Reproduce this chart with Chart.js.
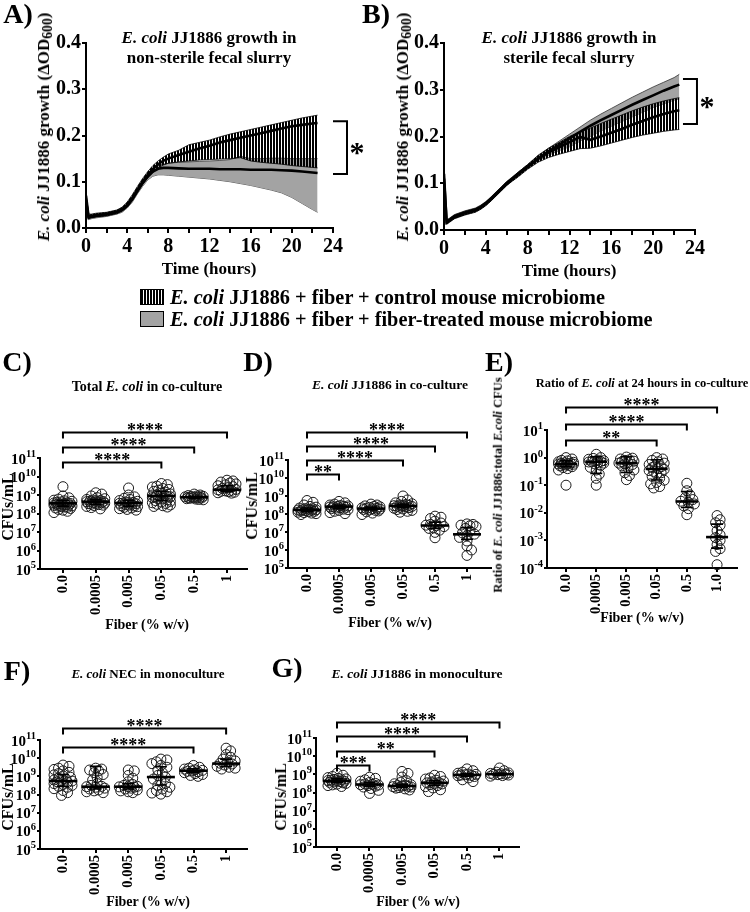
<!DOCTYPE html>
<html>
<head>
<meta charset="utf-8">
<script src="https://cdn.jsdelivr.net/npm/chart.js@4.4.1/dist/chart.umd.min.js"></script>
<style>
body{margin:0;background:#fff;}
#fig{position:relative;width:750px;height:912px;overflow:hidden;font-family:'Liberation Serif','Times New Roman',serif;font-weight:bold;color:#000;}
#fig canvas{position:absolute;left:0;top:0;}
.t{position:absolute;white-space:nowrap;transform:translate(-50%,-50%);line-height:1;}
.r{transform:translate(-50%,-50%) rotate(-90deg);}
.l{position:absolute;white-space:nowrap;transform:translateY(-50%);line-height:1;font-size:20.3px;}
.box{position:absolute;width:22px;height:14px;border:1px solid #000;}
sub{font-size:0.8em;vertical-align:-0.25em;}
</style>
</head>
<body>
<div id="fig">
<canvas id="cA" width="750" height="912"></canvas>
<canvas id="cB" width="750" height="912"></canvas>
<canvas id="cC" width="750" height="912"></canvas>
<canvas id="cD" width="750" height="912"></canvas>
<canvas id="cE" width="750" height="912"></canvas>
<canvas id="cF" width="750" height="912"></canvas>
<canvas id="cG" width="750" height="912"></canvas>

<div class="t" style="left:18px;top:14px;font-size:28px">A)</div>
<div class="t" style="left:376px;top:14px;font-size:28px">B)</div>
<div class="t" style="left:17px;top:362px;font-size:28px">C)</div>
<div class="t" style="left:258px;top:362px;font-size:28px">D)</div>
<div class="t" style="left:499px;top:362px;font-size:28px">E)</div>
<div class="t" style="left:17px;top:671px;font-size:28px">F)</div>
<div class="t" style="left:287px;top:668px;font-size:28px">G)</div>

<div class="t" style="left:209px;top:37px;font-size:17px"><i>E. coli</i> JJ1886 growth in</div>
<div class="t" style="left:209px;top:57px;font-size:17px">non-sterile fecal slurry</div>
<div class="t" style="left:569px;top:37px;font-size:17px"><i>E. coli</i> JJ1886 growth in</div>
<div class="t" style="left:569px;top:57px;font-size:17px">sterile fecal slurry</div>
<div class="t" style="left:147px;top:387px;font-size:14px">Total <i>E. coli</i> in co-culture</div>
<div class="t" style="left:390px;top:385px;font-size:13.5px"><i>E. coli</i> JJ1886 in co-culture</div>
<div class="t" style="left:642px;top:383px;font-size:12.5px">Ratio of <i>E. coli</i> at 24 hours in co-culture</div>
<div class="t" style="left:148px;top:673px;font-size:13px"><i>E. coli</i> NEC in monoculture</div>
<div class="t" style="left:417px;top:674px;font-size:13.5px"><i>E. coli</i> JJ1886 in monoculture</div>

<div class="t r" style="left:45px;top:127px;font-size:17px"><i>E. coli</i> JJ1886 growth (ΔOD<sub>600</sub>)</div>
<div class="t" style="left:209px;top:268px;font-size:17px">Time (hours)</div>
<div class="t r" style="left:404px;top:127px;font-size:17px"><i>E. coli</i> JJ1886 growth (ΔOD<sub>600</sub>)</div>
<div class="t" style="left:569px;top:270px;font-size:17px">Time (hours)</div>

<div class="t r" style="left:8px;top:507px;font-size:16px">CFUs/mL</div>
<div class="t" style="left:147px;top:625px;font-size:14px">Fiber (% w/v)</div>
<div class="t r" style="left:252px;top:506px;font-size:16px">CFUs/mL</div>
<div class="t" style="left:390px;top:623px;font-size:14px">Fiber (% w/v)</div>
<div class="t r" style="left:498px;top:485px;font-size:12.5px">Ratio of <i>E. coli</i> JJ1886:total <i>E.coli</i> CFUs</div>
<div class="t" style="left:642px;top:618px;font-size:14px">Fiber (% w/v)</div>
<div class="t r" style="left:8px;top:797px;font-size:16px">CFUs/mL</div>
<div class="t" style="left:148px;top:902px;font-size:14px">Fiber (% w/v)</div>
<div class="t r" style="left:281px;top:797px;font-size:16px">CFUs/mL</div>
<div class="t" style="left:418px;top:902px;font-size:14px">Fiber (% w/v)</div>

<div class="box" style="left:140px;top:289px;background:repeating-linear-gradient(90deg,#000 0 2px,#fff 2px 3px)"></div>
<div class="l" style="left:170px;top:297px"><i>E. coli</i> JJ1886 + fiber + control mouse microbiome</div>
<div class="box" style="left:140px;top:311px;background:#a3a3a3"></div>
<div class="l" style="left:170px;top:319px"><i>E. coli</i> JJ1886 + fiber + fiber-treated mouse microbiome</div>
</div>

<script>
// ---- growth curves (A, B) ----
var hours = [0, 0.25, 0.5, 1, 2, 3, 3.5, 4, 4.5, 5, 5.5, 6, 6.5, 7, 7.5, 8, 9, 10, 11, 12, 13, 14, 15, 16, 17, 18, 19, 20, 21, 22, 22.5];

// A: non-sterile slurry
var ctrlMeanA = [0.07, 0.025, 0.026, 0.028, 0.030, 0.035, 0.040, 0.050, 0.065, 0.083, 0.100, 0.115, 0.128, 0.138, 0.145, 0.150, 0.158, 0.165, 0.172, 0.178, 0.185, 0.190, 0.195, 0.200, 0.205, 0.210, 0.215, 0.220, 0.223, 0.226, 0.227];
var ctrlHiA = [0.075, 0.03, 0.03, 0.032, 0.034, 0.039, 0.045, 0.056, 0.072, 0.09, 0.107, 0.122, 0.135, 0.145, 0.153, 0.16, 0.168, 0.18, 0.185, 0.19, 0.197, 0.203, 0.208, 0.213, 0.218, 0.223, 0.228, 0.233, 0.238, 0.242, 0.244];
var ctrlLoA = [0.06, 0.02, 0.022, 0.024, 0.026, 0.031, 0.036, 0.045, 0.059, 0.077, 0.094, 0.108, 0.12, 0.13, 0.136, 0.14, 0.143, 0.145, 0.147, 0.148, 0.149, 0.15, 0.152, 0.145, 0.142, 0.14, 0.138, 0.135, 0.133, 0.131, 0.13];
var fibMeanA = [0.06, 0.022, 0.024, 0.026, 0.029, 0.034, 0.039, 0.048, 0.062, 0.08, 0.097, 0.112, 0.122, 0.128, 0.13, 0.13, 0.129, 0.128, 0.128, 0.128, 0.127, 0.127, 0.127, 0.126, 0.126, 0.126, 0.125, 0.124, 0.122, 0.12, 0.119];
var fibHiA = [0.065, 0.026, 0.028, 0.03, 0.033, 0.038, 0.044, 0.053, 0.068, 0.086, 0.103, 0.118, 0.128, 0.135, 0.138, 0.14, 0.142, 0.143, 0.144, 0.145, 0.146, 0.148, 0.155, 0.15, 0.15, 0.151, 0.151, 0.15, 0.15, 0.15, 0.15];
var fibLoA = [0.055, 0.018, 0.02, 0.022, 0.025, 0.03, 0.034, 0.043, 0.056, 0.074, 0.09, 0.104, 0.112, 0.115, 0.115, 0.114, 0.112, 0.11, 0.108, 0.106, 0.103, 0.1, 0.096, 0.092, 0.087, 0.082, 0.076, 0.066, 0.053, 0.04, 0.034];

// B: sterile slurry
var ctrlMeanB = [0.12, 0.016, 0.02, 0.028, 0.036, 0.042, 0.048, 0.056, 0.066, 0.077, 0.088, 0.099, 0.108, 0.117, 0.126, 0.135, 0.152, 0.166, 0.177, 0.188, 0.199, 0.193, 0.2, 0.208, 0.216, 0.225, 0.233, 0.241, 0.248, 0.254, 0.256];
var ctrlHiB = [0.125, 0.02, 0.024, 0.032, 0.04, 0.046, 0.052, 0.06, 0.07, 0.081, 0.092, 0.103, 0.112, 0.122, 0.131, 0.14, 0.16, 0.175, 0.187, 0.2, 0.21, 0.218, 0.228, 0.237, 0.246, 0.255, 0.263, 0.27, 0.276, 0.281, 0.283];
var ctrlLoB = [0.115, 0.012, 0.016, 0.024, 0.032, 0.038, 0.044, 0.052, 0.062, 0.073, 0.084, 0.095, 0.104, 0.112, 0.121, 0.13, 0.145, 0.155, 0.162, 0.168, 0.174, 0.175, 0.18, 0.186, 0.192, 0.198, 0.203, 0.207, 0.211, 0.214, 0.215];
var fibMeanB = [0.11, 0.018, 0.021, 0.029, 0.037, 0.043, 0.049, 0.057, 0.067, 0.078, 0.089, 0.1, 0.109, 0.118, 0.127, 0.136, 0.153, 0.168, 0.182, 0.196, 0.21, 0.223, 0.235, 0.246, 0.257, 0.268, 0.278, 0.288, 0.298, 0.307, 0.311];
var fibHiB = [0.115, 0.022, 0.025, 0.033, 0.041, 0.047, 0.053, 0.061, 0.071, 0.082, 0.093, 0.104, 0.113, 0.122, 0.131, 0.14, 0.158, 0.175, 0.19, 0.205, 0.22, 0.235, 0.248, 0.26, 0.272, 0.284, 0.295, 0.306, 0.316, 0.326, 0.333];
var fibLoB = [0.105, 0.014, 0.017, 0.025, 0.033, 0.039, 0.045, 0.053, 0.063, 0.074, 0.085, 0.096, 0.105, 0.114, 0.123, 0.132, 0.148, 0.16, 0.17, 0.178, 0.19, 0.2, 0.212, 0.222, 0.232, 0.242, 0.252, 0.262, 0.27, 0.278, 0.28];

// ---- dot plots (C-G), values are log10 ----
var fiberCats = ['0.0', '0.0005', '0.005', '0.05', '0.5', '1'];
var fiberCatsE = ['0.0', '0.0005', '0.005', '0.05', '0.5', '1.0'];

var totalCo = [
	[9.45, 8.95, 8.85, 8.78, 8.72, 8.69, 8.66, 8.63, 8.61, 8.58, 8.57, 8.55, 8.54, 8.52, 8.5, 8.49, 8.47, 8.46, 8.44, 8.41, 8.4, 8.37, 8.35, 8.33, 8.3, 8.27, 8.22, 8.18, 8.12, 8.05],
	[9.12, 9.05, 8.95, 8.86, 8.8, 8.76, 8.73, 8.7, 8.68, 8.66, 8.65, 8.64, 8.62, 8.6, 8.58, 8.56, 8.55, 8.53, 8.5, 8.48, 8.45, 8.42, 8.38, 8.32, 8.25],
	[9.38, 9.0, 8.9, 8.82, 8.76, 8.7, 8.66, 8.62, 8.6, 8.58, 8.56, 8.55, 8.53, 8.5, 8.48, 8.45, 8.42, 8.4, 8.37, 8.33, 8.3, 8.26, 8.22, 8.18],
	[9.62, 9.56, 9.48, 9.43, 9.35, 9.3, 9.26, 9.2, 9.15, 9.1, 9.06, 9.02, 9.0, 8.97, 8.95, 8.93, 8.9, 8.88, 8.85, 8.82, 8.78, 8.74, 8.7, 8.66, 8.62, 8.58, 8.54, 8.5, 8.46, 8.42, 8.38, 8.35],
	[9.05, 9.0, 8.97, 8.95, 8.93, 8.92, 8.9, 8.89, 8.88, 8.87, 8.86, 8.85, 8.84, 8.82, 8.8, 8.78, 8.76, 8.74],
	[9.8, 9.76, 9.7, 9.65, 9.6, 9.55, 9.5, 9.45, 9.4, 9.35, 9.3, 9.28, 9.25, 9.22, 9.2, 9.18, 9.15, 9.12, 9.1]
];
var totalCoMed = [8.55, 8.64, 8.57, 8.95, 8.88, 9.28];
var totalCoLo = [8.4, 8.5, 8.4, 8.7, 8.82, 9.18];
var totalCoHi = [8.7, 8.75, 8.72, 9.2, 8.93, 9.5];

var jjCo = [
	[8.75, 8.65, 8.5, 8.42, 8.38, 8.33, 8.3, 8.28, 8.26, 8.24, 8.23, 8.22, 8.2, 8.18, 8.17, 8.15, 8.13, 8.1, 8.08, 8.05, 8.02, 7.97],
	[8.7, 8.62, 8.55, 8.5, 8.47, 8.45, 8.43, 8.42, 8.4, 8.39, 8.37, 8.35, 8.33, 8.3, 8.27, 8.24, 8.2, 8.15, 8.08, 8.02],
	[8.55, 8.5, 8.45, 8.42, 8.4, 8.37, 8.34, 8.32, 8.3, 8.29, 8.27, 8.25, 8.23, 8.2, 8.17, 8.12, 8.05, 7.97],
	[9.0, 8.78, 8.7, 8.62, 8.57, 8.53, 8.5, 8.48, 8.46, 8.45, 8.43, 8.42, 8.4, 8.38, 8.35, 8.32, 8.28, 8.25, 8.2, 8.15, 8.1],
	[7.88, 7.82, 7.75, 7.6, 7.5, 7.42, 7.38, 7.35, 7.3, 7.25, 7.2, 7.1, 6.98, 6.68],
	[7.45, 7.42, 7.38, 7.35, 7.3, 7.2, 7.05, 6.95, 6.88, 6.8, 6.7, 6.5, 6.22, 6.0, 5.7]
];
var jjCoMed = [8.23, 8.41, 8.3, 8.45, 7.36, 6.87];
var jjCoLo = [8.13, 8.3, 8.22, 8.35, 7.2, 6.6];
var jjCoHi = [8.33, 8.5, 8.38, 8.55, 7.55, 7.25];

var ratio = [
	[0.0, -0.05, -0.1, -0.12, -0.15, -0.17, -0.19, -0.2, -0.21, -0.22, -0.23, -0.24, -0.25, -0.27, -0.28, -0.3, -0.33, -0.36, -0.4, -0.45, -1.0],
	[0.12, 0.0, -0.03, -0.06, -0.09, -0.11, -0.13, -0.14, -0.15, -0.16, -0.18, -0.2, -0.23, -0.28, -0.35, -0.45, -0.6, -0.75, -1.0],
	[0.02, -0.02, -0.05, -0.08, -0.1, -0.13, -0.15, -0.18, -0.2, -0.22, -0.25, -0.3, -0.38, -0.45, -0.55, -0.65, -0.8],
	[0.0, -0.05, -0.1, -0.15, -0.2, -0.25, -0.3, -0.33, -0.36, -0.4, -0.43, -0.47, -0.5, -0.55, -0.6, -0.68, -0.75, -0.82, -0.9, -0.95, -1.05, -1.1],
	[-0.93, -1.2, -1.35, -1.45, -1.52, -1.58, -1.62, -1.68, -1.75, -1.85, -2.07],
	[-2.1, -2.25, -2.36, -2.45, -2.65, -2.8, -2.9, -3.0, -3.15, -3.3, -3.4, -3.88]
];
var ratioMed = [-0.23, -0.15, -0.2, -0.41, -1.59, -2.88];
var ratioLo = [-0.33, -0.57, -0.54, -0.81, -1.81, -3.28];
var ratioHi = [-0.12, 0.03, 0.03, -0.08, -1.23, -2.41];

var necMono = [
	[9.62, 9.55, 9.45, 9.38, 9.3, 9.22, 9.15, 9.08, 9.02, 8.95, 8.9, 8.85, 8.8, 8.76, 8.74, 8.7, 8.66, 8.6, 8.55, 8.5, 8.45, 8.4, 8.32, 8.22, 8.1, 7.95],
	[9.45, 9.4, 9.35, 9.3, 9.2, 9.1, 8.95, 8.8, 8.6, 8.5, 8.45, 8.43, 8.4, 8.35, 8.3, 8.25, 8.2, 8.15, 8.1],
	[9.35, 9.3, 9.05, 8.9, 8.7, 8.55, 8.5, 8.45, 8.43, 8.42, 8.4, 8.35, 8.3, 8.25, 8.2, 8.15, 8.1],
	[9.95, 9.9, 9.8, 9.7, 9.6, 9.5, 9.35, 9.2, 9.05, 8.96, 8.85, 8.75, 8.6, 8.5, 8.4, 8.3, 8.22, 8.15, 8.08, 8.02],
	[9.6, 9.5, 9.45, 9.4, 9.36, 9.33, 9.3, 9.28, 9.25, 9.2, 9.15, 9.1, 9.05, 9.0],
	[10.55, 10.4, 10.2, 10.05, 9.95, 9.85, 9.78, 9.72, 9.68, 9.62, 9.55, 9.5, 9.45, 9.4]
];
var necMonoMed = [8.74, 8.43, 8.43, 8.96, 9.31, 9.7];
var necMonoLo = [8.45, 8.3, 8.3, 8.52, 9.2, 9.55];
var necMonoHi = [9.1, 9.55, 8.6, 9.53, 9.42, 9.95];

var jjMono = [
	[9.06, 8.95, 8.88, 8.82, 8.78, 8.75, 8.72, 8.7, 8.68, 8.66, 8.64, 8.62, 8.6, 8.58, 8.56, 8.53, 8.5, 8.46, 8.42, 8.38, 8.33],
	[8.84, 8.78, 8.7, 8.62, 8.55, 8.5, 8.47, 8.45, 8.43, 8.41, 8.38, 8.35, 8.3, 8.22, 8.12, 7.95],
	[9.16, 9.05, 8.85, 8.65, 8.55, 8.48, 8.43, 8.4, 8.38, 8.36, 8.34, 8.32, 8.3, 8.27, 8.24, 8.2, 8.14],
	[8.95, 8.88, 8.8, 8.74, 8.68, 8.63, 8.58, 8.55, 8.53, 8.5, 8.47, 8.43, 8.38, 8.32, 8.25, 8.15, 8.05],
	[9.3, 9.2, 9.12, 9.06, 9.02, 9.0, 8.98, 8.96, 8.94, 8.92, 8.88, 8.8, 8.7, 8.6],
	[9.35, 9.2, 9.12, 9.08, 9.05, 9.03, 9.01, 9.0, 8.98, 8.96, 8.93, 8.9]
];
var jjMonoMed = [8.64, 8.44, 8.36, 8.53, 8.97, 9.01];
var jjMonoLo = [8.55, 8.35, 8.28, 8.4, 8.9, 8.95];
var jjMonoHi = [8.75, 8.55, 8.45, 8.65, 9.05, 9.06];

// significance brackets: [from group, to group, stars]
var sigC = [[0, 3, '****'], [0, 4, '****'], [0, 5, '****']];
var sigD = [[0, 1, '**'], [0, 3, '****'], [0, 4, '****'], [0, 5, '****']];
var sigE = [[0, 3, '**'], [0, 4, '****'], [0, 5, '****']];
var sigF = [[0, 4, '****'], [0, 5, '****']];
var sigG = [[0, 1, '***'], [0, 3, '**'], [0, 4, '****'], [0, 5, '****']];

var SERIF = "'Liberation Serif', 'Times New Roman', serif";
Chart.defaults.font.family = SERIF;
Chart.defaults.font.weight = 'bold';
Chart.defaults.color = '#000';

var W = 750, H = 912;
var marks = {};

function hatchTile() {
	var c = document.createElement('canvas');
	c.width = 3; c.height = 4;
	var g = c.getContext('2d');
	g.fillStyle = '#000';
	g.fillRect(0, 0, 2, 4);
	return c;
}

var marksPlugin = {
	id: 'marks',
	afterDatasetsDraw: function(chart) {
		var m = marks[chart.canvas.id];
		if (!m) return;
		var ctx = chart.ctx, xs = chart.scales.x, ys = chart.scales.y, a = chart.chartArea;
		ctx.save();
		ctx.strokeStyle = '#000';
		ctx.fillStyle = '#000';
		ctx.lineCap = 'butt';
		if (m.med) {
			m.med.forEach(function(v, i) {
				var x = xs.getPixelForValue(i);
				var yl = ys.getPixelForValue(Math.pow(10, m.lo[i]));
				var yh = ys.getPixelForValue(Math.pow(10, m.hi[i]));
				var ym = ys.getPixelForValue(Math.pow(10, v));
				ctx.lineWidth = 1.6;
				ctx.beginPath();
				ctx.moveTo(x, yl); ctx.lineTo(x, yh);
				ctx.moveTo(x - m.cap, yl); ctx.lineTo(x + m.cap, yl);
				ctx.moveTo(x - m.cap, yh); ctx.lineTo(x + m.cap, yh);
				ctx.stroke();
				ctx.lineWidth = 2.6;
				ctx.beginPath();
				ctx.moveTo(x - m.half, ym); ctx.lineTo(x + m.half, ym);
				ctx.stroke();
			});
		}
		if (m.sig) {
			ctx.lineWidth = 2;
			ctx.textAlign = 'center';
			ctx.textBaseline = 'alphabetic';
			ctx.font = 'bold 18px ' + SERIF;
			m.sig.forEach(function(s, k) {
				var y = Math.round(a.top + m.base - k * m.gap) + 0.5;
				var x1 = xs.getPixelForValue(s[0]), x2 = xs.getPixelForValue(s[1]);
				ctx.beginPath();
				ctx.moveTo(x1, y + 6); ctx.lineTo(x1, y); ctx.lineTo(x2, y); ctx.lineTo(x2, y + 6);
				ctx.stroke();
				ctx.fillText(s[2], (x1 + x2) / 2, y + 3.5);
			});
		}
		if (m.decades) {
			// power-of-ten tick labels with a raised exponent
			ys.ticks.forEach(function(t) {
				var y = ys.getPixelForValue(t.value);
				var e = String(Math.round(Math.log10(t.value)));
				ctx.font = 'bold 10.5px ' + SERIF;
				var ew = ctx.measureText(e).width;
				var right = a.left - 4;
				ctx.textAlign = 'right';
				ctx.textBaseline = 'alphabetic';
				ctx.fillText(e, right, y - 1);
				ctx.font = 'bold 15px ' + SERIF;
				ctx.fillText('10', right - ew, y + 5.5);
			});
		}
		if (m.bracket) {
			var b = m.bracket;
			var x0 = xs.getPixelForValue(b.x), x1 = x0 + 14;
			var y1 = ys.getPixelForValue(b.top), y2 = ys.getPixelForValue(b.bottom);
			ctx.lineWidth = 2;
			ctx.beginPath();
			ctx.moveTo(x0, y1); ctx.lineTo(x1, y1); ctx.lineTo(x1, y2); ctx.lineTo(x0, y2);
			ctx.stroke();
			ctx.font = 'bold 30px ' + SERIF;
			ctx.textAlign = 'center';
			ctx.textBaseline = 'middle';
			ctx.fillText('*', x1 + 10, (y1 + y2) / 2 + 7);
		}
		ctx.restore();
	}
};

function axisGrid(len) {
	return {drawOnChartArea: false, color: '#000', tickLength: len, lineWidth: 2};
}

function growthChart(id, box, cMean, cHi, cLo, fMean, fHi, fLo, bracket) {
	var el = document.getElementById(id);
	var pat = el.getContext('2d').createPattern(hatchTile(), 'repeat');
	var xy = function(arr) { return hours.map(function(h, i) { return {x: h, y: arr[i]}; }); };
	var yW = 50, xH = 34;
	marks[id] = {bracket: bracket};
	return new Chart(el, {
		type: 'line',
		data: {datasets: [
			{data: xy(cMean), borderColor: '#000', borderWidth: 2.6, pointRadius: 0, fill: false, order: 0},
			{data: xy(fMean), borderColor: '#000', borderWidth: 2.6, pointRadius: 0, fill: false, order: 0},
			{data: xy(cHi), borderColor: '#000', borderWidth: 0.8, pointRadius: 0, backgroundColor: pat, fill: 3, order: 1},
			{data: xy(cLo), borderColor: '#000', borderWidth: 0.8, pointRadius: 0, fill: false, order: 1},
			{data: xy(fHi), borderColor: '#333', borderWidth: 0.8, pointRadius: 0, backgroundColor: '#a3a3a3', fill: 5, order: 2},
			{data: xy(fLo), borderColor: '#333', borderWidth: 0.8, pointRadius: 0, fill: false, order: 2}
		]},
		options: {
			responsive: false, animation: false, events: [], devicePixelRatio: 1,
			layout: {padding: {left: box.L - yW, right: W - box.R, top: box.T, bottom: H - box.B - xH}},
			plugins: {legend: {display: false}, tooltip: {enabled: false}},
			scales: {
				x: {type: 'linear', min: 0, max: 24,
					afterFit: function(s) { s.height = xH; },
					ticks: {stepSize: 2, autoSkip: false, maxRotation: 0, padding: 2, font: {size: 20},
						callback: function(v) { return v % 4 === 0 ? v : ''; }},
					grid: axisGrid(5), border: {color: '#000', width: 2}},
				y: {min: 0, max: 0.4,
					afterFit: function(s) { s.width = yW; },
					ticks: {stepSize: 0.1, autoSkip: false, padding: 1, font: {size: 20},
						callback: function(v) { return v.toFixed(1); }},
					grid: axisGrid(4), border: {color: '#000', width: 2}}
			}
		},
		plugins: [marksPlugin]
	});
}

function swarm(vals, pxPerDec, maxOff) {
	var placed = [], out = [];
	var minD = 5, step = 1.5;
	vals.forEach(function(v) {
		var y = v * pxPerDec, bestOff = 0, bestD = -1;
		for (var k = 0; ; k++) {
			var off = (k % 2 ? 1 : -1) * Math.ceil(k / 2) * step;
			if (Math.abs(off) > maxOff) break;
			var d = Infinity;
			placed.forEach(function(p) {
				var dd = Math.sqrt((p.x - off) * (p.x - off) + (p.y - y) * (p.y - y));
				if (dd < d) d = dd;
			});
			if (d >= minD) { bestOff = off; break; }
			if (d > bestD) { bestD = d; bestOff = off; }
		}
		placed.push({x: bestOff, y: y});
		out.push(bestOff);
	});
	return out;
}

function dotChart(id, box, groups, med, lo, hi, cats, sig) {
	var el = document.getElementById(id);
	var pxPerCat = (box.R - box.L) / (box.xmax - box.xmin);
	var pxPerDec = (box.B - box.T) / (box.dec1 - box.dec0);
	var pts = [];
	groups.forEach(function(g, i) {
		var offs = swarm(g, pxPerDec, box.spread);
		g.forEach(function(v, k) { pts.push({x: i + offs[k] / pxPerCat, y: Math.pow(10, v)}); });
	});
	marks[id] = {med: med, lo: lo, hi: hi, half: box.half, cap: box.cap, sig: sig, base: box.base, gap: box.gap, decades: true};
	var yW = 42, xH = 52;
	return new Chart(el, {
		type: 'scatter',
		data: {datasets: [{data: pts, pointRadius: 5, pointBorderWidth: 1, pointBorderColor: '#1a1a1a',
			pointBackgroundColor: 'rgba(255,255,255,0)', clip: false}]},
		options: {
			responsive: false, animation: false, events: [], devicePixelRatio: 1,
			layout: {padding: {left: box.L - yW, right: W - box.R, top: box.T, bottom: H - box.B - xH}},
			plugins: {legend: {display: false}, tooltip: {enabled: false}},
			scales: {
				x: {type: 'linear', min: box.xmin, max: box.xmax,
					afterFit: function(s) { s.height = xH; },
					afterBuildTicks: function(s) { s.ticks = cats.map(function(c, i) { return {value: i}; }); },
					ticks: {autoSkip: false, minRotation: 90, maxRotation: 90, padding: 2, font: {size: 14.5},
						callback: function(v) { return cats[Math.round(v)]; }},
					grid: axisGrid(4), border: {color: '#000', width: 2}},
				y: {type: 'logarithmic', min: Math.pow(10, box.dec0), max: Math.pow(10, box.dec1),
					afterFit: function(s) { s.width = yW; },
					afterBuildTicks: function(s) {
						s.ticks = [];
						for (var e = box.dec0; e <= box.dec1; e++) s.ticks.push({value: Math.pow(10, e)});
					},
					ticks: {display: false},
					grid: axisGrid(3), border: {color: '#000', width: 2}}
			}
		},
		plugins: [marksPlugin]
	});
}

growthChart('cA', {L: 86, R: 333, T: 43, B: 228}, ctrlMeanA, ctrlHiA, ctrlLoA, fibMeanA, fibHiA, fibLoA,
	{x: 24, top: 0.231, bottom: 0.117});
growthChart('cB', {L: 444, R: 695, T: 43, B: 230}, ctrlMeanB, ctrlHiB, ctrlLoB, fibMeanB, fibHiB, fibLoB,
	{x: 22.85, top: 0.323, bottom: 0.227});

dotChart('cC', {L: 40, R: 247, T: 458, B: 569, xmin: -0.7, xmax: 5.61, dec0: 5, dec1: 11, spread: 10, half: 14, cap: 6, base: 4, gap: 15},
	totalCo, totalCoMed, totalCoLo, totalCoHi, fiberCats, sigC);
dotChart('cD', {L: 288, R: 491, T: 460, B: 568, xmin: -0.594, xmax: 5.75, dec0: 5, dec1: 11, spread: 10, half: 14, cap: 6, base: 14, gap: 14},
	jjCo, jjCoMed, jjCoLo, jjCoHi, fiberCats, sigD);
dotChart('cE', {L: 547, R: 737, T: 430, B: 568, xmin: -0.63, xmax: 5.66, dec0: -4, dec1: 1, spread: 8, half: 11, cap: 6, base: 10, gap: 16.5},
	ratio, ratioMed, ratioLo, ratioHi, fiberCatsE, sigE);
dotChart('cF', {L: 40, R: 247, T: 740, B: 849, xmin: -0.706, xmax: 5.64, dec0: 5, dec1: 11, spread: 10, half: 14, cap: 6, base: 7, gap: 19},
	necMono, necMonoMed, necMonoLo, necMonoHi, fiberCats, sigF);
dotChart('cG', {L: 316, R: 519, T: 738, B: 847, xmin: -0.646, xmax: 5.6, dec0: 5, dec1: 11, spread: 10, half: 14, cap: 6, base: 27, gap: 14.5},
	jjMono, jjMonoMed, jjMonoLo, jjMonoHi, fiberCats, sigG);
</script>
</body>
</html>
